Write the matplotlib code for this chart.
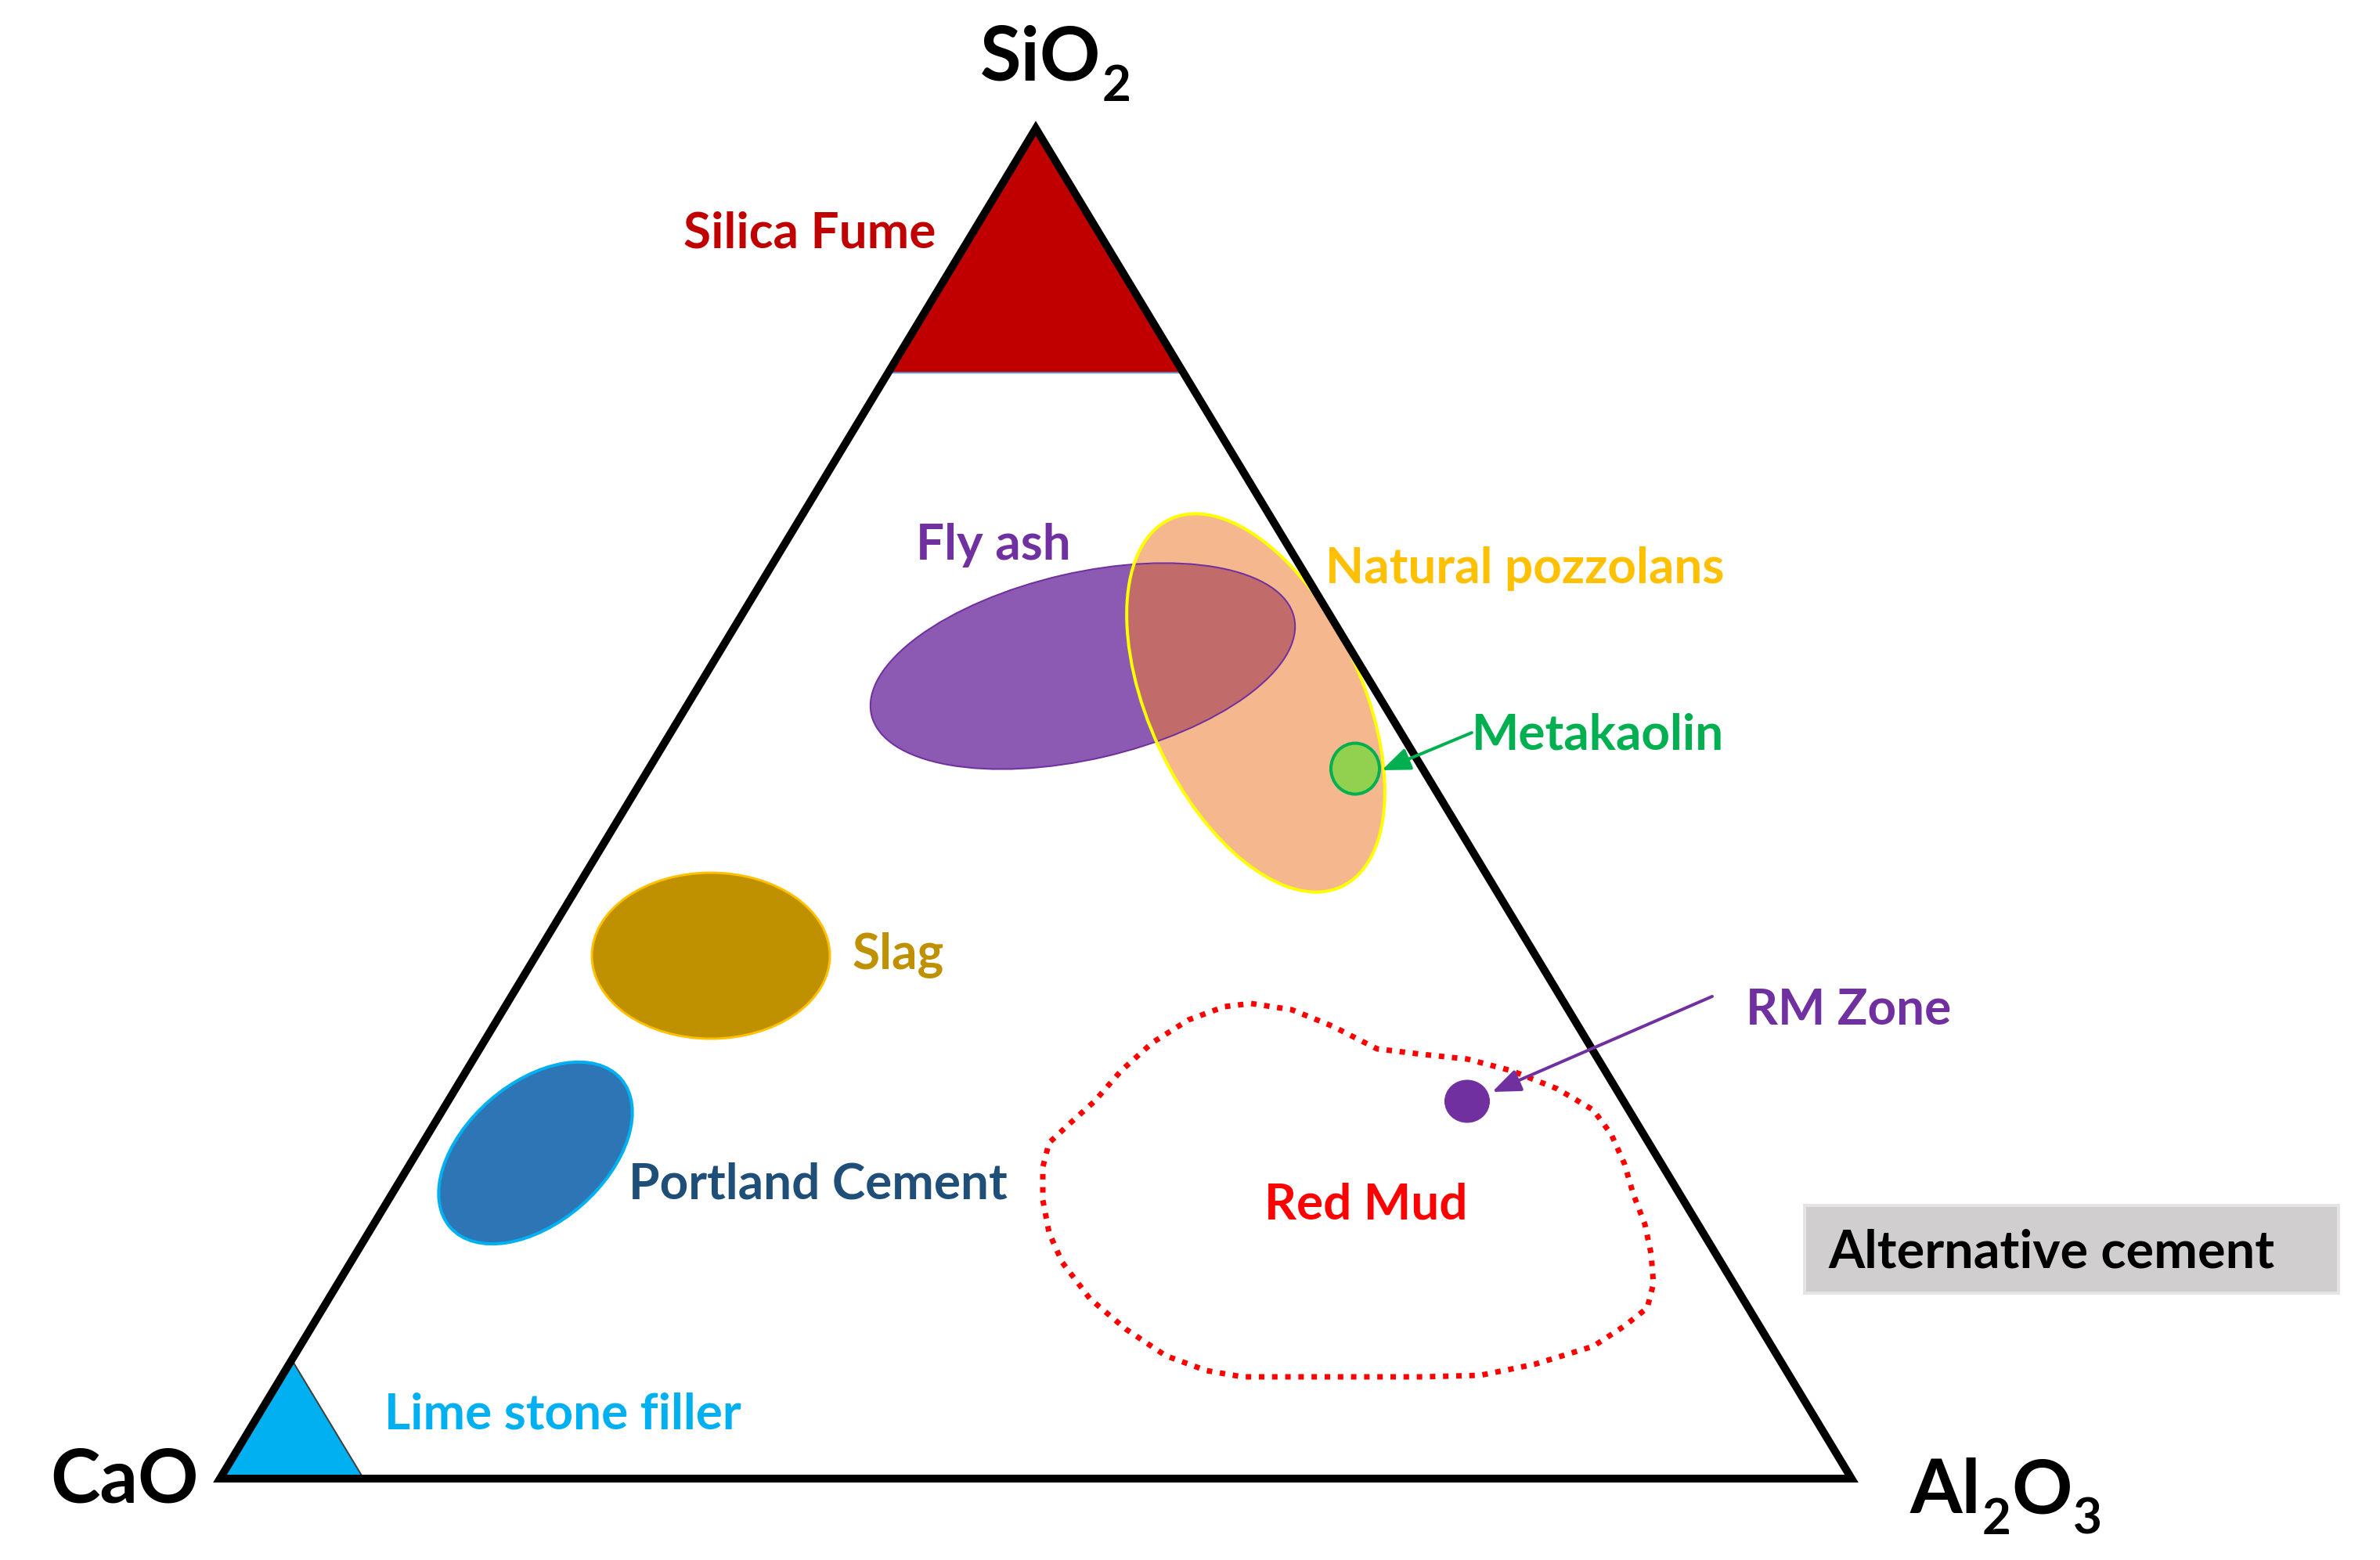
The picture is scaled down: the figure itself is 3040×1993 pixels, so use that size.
import matplotlib.pyplot as plt
from matplotlib.patches import Ellipse, Polygon, Rectangle

plt.rcParams['font.family'] = ['Lato', 'DejaVu Sans']
plt.rcParams['font.weight'] = 'bold'

W, H, DPI = 3040, 1993, 200
PX = 72 / DPI  # one image pixel in points

# ternary corners (image pixels): SiO2 top, CaO left, Al2O3 right
corner_labels = [[('SiO', 0), ('2', 1)], [('CaO', 0)], [('Al', 0), ('2', 1), ('O', 0), ('3', 1)]]
corner_x = [1323, 281, 2365]
corner_y = [164, 1889, 1889]
corner_text_x = [1252, 64, 2440]
corner_text_y = [102, 1920, 1933]

# corner end-members: minimum fraction of the corner oxide
silica_fume_min = 0.819
limestone_min = 0.912

# elliptical zones (centre, full axes, on-screen angle ccw)
zone_names = ['Fly ash', 'Natural pozzolans', 'Slag', 'Portland Cement', 'Metakaolin', 'RM Zone']
zone_cx = [1383, 1604, 908, 684, 1731, 1874]
zone_cy = [851, 898, 1221, 1473, 982, 1407]
zone_w = [554, 518, 304, 289, 62, 57]
zone_h = [238, 272, 212, 178, 65, 54]
zone_angle = [13, 115, 0, 41, 0, 0]

# red mud boundary (traced)
redmud_x = [1598, 1650, 1702, 1759, 1817, 1874, 1931, 1989, 2035, 2058, 2075, 2086,
            2101, 2109, 2112, 2104, 2075, 2035, 1960, 1891, 1817, 1702, 1587, 1541,
            1489, 1438, 1392, 1357, 1340, 1332, 1332, 1340, 1369, 1398, 1432, 1472,
            1518, 1564, 1598]
redmud_y = [1282, 1290, 1311, 1340, 1347, 1353, 1368, 1391, 1418, 1449, 1487, 1525,
            1564, 1602, 1640, 1671, 1694, 1720, 1743, 1757, 1759, 1759, 1759, 1751,
            1732, 1698, 1659, 1613, 1575, 1533, 1491, 1460, 1433, 1407, 1368, 1332,
            1303, 1286, 1282]

# labels: text, left/centre x, baseline y
label_text = ['Silica Fume', 'Fly ash', 'Natural pozzolans', 'Metakaolin', 'Slag',
              'Portland Cement', 'RM Zone', 'Red Mud', 'Lime stone filler']
label_x = [873, 1170, 1693, 1880, 1089, 803, 2230, 1745, 491]
label_y = [316, 715, 745, 957, 1237, 1532, 1309, 1558, 1825]
label_ha = ['left', 'left', 'left', 'left', 'left', 'left', 'left', 'center', 'left']

# arrows: start (at label) -> tip
arrow_start = [(1880, 936), (2187, 1273)]
arrow_tip = [(1765, 984), (1906, 1395)]

legend_box = (2305, 1540, 682, 112)
legend_text = 'Alternative cement'

fig = plt.figure(figsize=(W / DPI, H / DPI), dpi=DPI)
ax = fig.add_axes([0, 0, 1, 1])
ax.set_xlim(0, W)
ax.set_ylim(H, 0)
ax.axis('off')


def toward(corner, frac):
    # points on the two edges leaving `corner`, at (1-frac) of the way
    cx, cy = corner_x[corner], corner_y[corner]
    pts = [(cx, cy)]
    for j in range(3):
        if j != corner:
            pts.append((cx + (corner_x[j] - cx) * (1 - frac),
                        cy + (corner_y[j] - cy) * (1 - frac)))
    return pts


ax.add_patch(Polygon(toward(0, silica_fume_min), closed=True, facecolor='#C00000',
                     edgecolor='#5B9BD5', lw=2 * PX, zorder=2))
ax.add_patch(Polygon(toward(1, limestone_min), closed=True, facecolor='#00B0F0',
                     edgecolor='#404040', lw=2 * PX, zorder=2))

zone_face = ['#7030A0', '#ED7D31', '#BF9000', '#2E75B6', '#92D050', '#7030A0']
zone_alpha = [0.8, 0.55, 1, 1, 1, 1]
zone_edge = ['#7030A0', '#FFFF00', '#FFC000', '#00B0F0', '#00B050', '#7030A0']
zone_lw = [2, 4, 3, 4, 4, 1]
for i in range(len(zone_names)):
    ax.add_patch(Ellipse((zone_cx[i], zone_cy[i]), zone_w[i], zone_h[i], angle=-zone_angle[i],
                         facecolor=zone_face[i], edgecolor='none', alpha=zone_alpha[i], zorder=2))
    ax.add_patch(Ellipse((zone_cx[i], zone_cy[i]), zone_w[i], zone_h[i], angle=-zone_angle[i],
                         facecolor='none', edgecolor=zone_edge[i], lw=zone_lw[i] * PX, zorder=2.1))

ax.plot(redmud_x, redmud_y, color='#FF0000', lw=7 * PX, linestyle=(0, (1, 1.4)),
        dash_capstyle='butt', zorder=2)

ax.add_patch(Polygon(list(zip(corner_x, corner_y)), closed=True, fill=False,
                     edgecolor='black', lw=10 * PX, joinstyle='miter', zorder=3))

arrow_color = ['#00B050', '#7030A0']
for s, t, c in zip(arrow_start, arrow_tip, arrow_color):
    ax.annotate('', xy=t, xytext=s,
                arrowprops=dict(arrowstyle='-|>,head_length=0.55,head_width=0.22',
                                color=c, lw=4 * PX, shrinkA=0, shrinkB=0,
                                mutation_scale=20), zorder=4)

label_color = ['#C00000', '#7030A0', '#FFC000', '#00B050', '#BF9000', '#1F4E79',
               '#7030A0', '#FF0000', '#00B0F0']
for t, x, y, c, ha in zip(label_text, label_x, label_y, label_color, label_ha):
    ax.text(x, y, t, color=c, fontsize=23, fontweight='bold', ha=ha, va='baseline', zorder=5)

# corner formulas, subscripts placed piece by piece
renderer = fig.canvas.get_renderer()
for parts, x, y in zip(corner_labels, corner_text_x, corner_text_y):
    for txt, sub in parts:
        t = ax.text(x, y + (27 if sub else 0), txt, color='black',
                    fontsize=23 if sub else 34.5, fontweight='bold',
                    ha='left', va='baseline', zorder=5)
        x += t.get_window_extent(renderer).width + 1

bx, by, bw, bh = legend_box
ax.add_patch(Rectangle((bx, by), bw, bh, facecolor='#D0CECE', edgecolor='#E4E4E4',
                       lw=4 * PX, zorder=2))
ax.text(bx + 30, by + 80, legend_text, color='black', fontsize=24, fontweight='bold',
        ha='left', va='baseline', zorder=5)

fig.savefig('out.png', dpi=DPI)
